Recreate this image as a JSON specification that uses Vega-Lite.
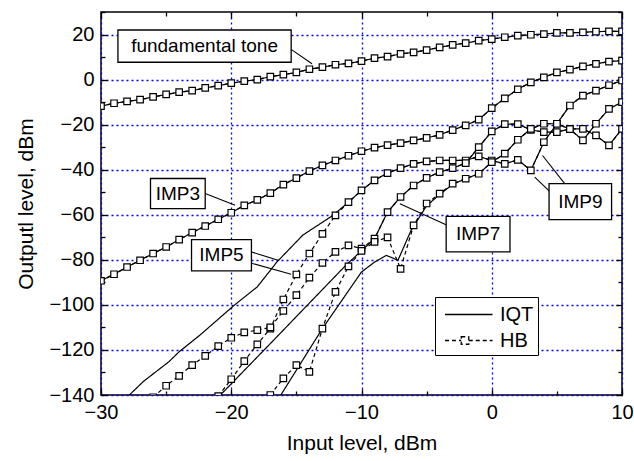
{
  "$schema": "https://vega.github.io/schema/vega-lite/v6.json",
  "width": 521,
  "height": 383,
  "autosize": {"type": "none"},
  "padding": {"left": 101, "top": 12, "right": 12, "bottom": 66},
  "background": "white",
  "config": {
    "view": {"stroke": "black", "strokeWidth": 1.5},
    "font": "Liberation Sans",
    "axis": {"labelFont": "Liberation Sans", "titleFont": "Liberation Sans", "labelFontSize": 20, "titleFontSize": 21, "labelColor": "black", "titleColor": "black", "titleFontWeight": "normal", "domain": false}
  },
  "datasets": {
    "curves": [
      {"s": "fund", "m": "IQT", "x": -30, "y": -11.8}, {"s": "fund", "m": "IQT", "x": -29, "y": -10.5}, {"s": "fund", "m": "IQT", "x": -28, "y": -9.7}, {"s": "fund", "m": "IQT", "x": -27, "y": -8.9}, {"s": "fund", "m": "IQT", "x": -26, "y": -7.7}, {"s": "fund", "m": "IQT", "x": -25, "y": -6.6}, {"s": "fund", "m": "IQT", "x": -24, "y": -5.6}, {"s": "fund", "m": "IQT", "x": -23, "y": -4.9}, {"s": "fund", "m": "IQT", "x": -22, "y": -3.7}, {"s": "fund", "m": "IQT", "x": -21, "y": -2.7}, {"s": "fund", "m": "IQT", "x": -20, "y": -1.6}, {"s": "fund", "m": "IQT", "x": -19, "y": -0.7}, {"s": "fund", "m": "IQT", "x": -18, "y": 0}, {"s": "fund", "m": "IQT", "x": -17, "y": 1.3}, {"s": "fund", "m": "IQT", "x": -16, "y": 2.2}, {"s": "fund", "m": "IQT", "x": -15, "y": 3.2}, {"s": "fund", "m": "IQT", "x": -14, "y": 4.6}, {"s": "fund", "m": "IQT", "x": -13, "y": 5.5}, {"s": "fund", "m": "IQT", "x": -12, "y": 6.6}, {"s": "fund", "m": "IQT", "x": -11, "y": 7.2}, {"s": "fund", "m": "IQT", "x": -10, "y": 8.2}, {"s": "fund", "m": "IQT", "x": -9, "y": 9.5}, {"s": "fund", "m": "IQT", "x": -8, "y": 10.2}, {"s": "fund", "m": "IQT", "x": -7, "y": 11.4}, {"s": "fund", "m": "IQT", "x": -6, "y": 12.1}, {"s": "fund", "m": "IQT", "x": -5, "y": 13.1}, {"s": "fund", "m": "IQT", "x": -4, "y": 14.3}, {"s": "fund", "m": "IQT", "x": -3, "y": 15.4}, {"s": "fund", "m": "IQT", "x": -2, "y": 16.2}, {"s": "fund", "m": "IQT", "x": -1, "y": 17.3}, {"s": "fund", "m": "IQT", "x": 0, "y": 18.0}, {"s": "fund", "m": "IQT", "x": 1, "y": 18.8}, {"s": "fund", "m": "IQT", "x": 2, "y": 19.5}, {"s": "fund", "m": "IQT", "x": 3, "y": 19.9}, {"s": "fund", "m": "IQT", "x": 4, "y": 20.2}, {"s": "fund", "m": "IQT", "x": 5, "y": 20.7}, {"s": "fund", "m": "IQT", "x": 6, "y": 20.7}, {"s": "fund", "m": "IQT", "x": 7, "y": 21.0}, {"s": "fund", "m": "IQT", "x": 8, "y": 21.3}, {"s": "fund", "m": "IQT", "x": 9, "y": 21.4}, {"s": "fund", "m": "IQT", "x": 10, "y": 21.4},
      {"s": "imp3", "m": "IQT", "x": -30, "y": -89.3}, {"s": "imp3", "m": "IQT", "x": -29, "y": -86.4}, {"s": "imp3", "m": "IQT", "x": -28, "y": -83.2}, {"s": "imp3", "m": "IQT", "x": -27, "y": -80.2}, {"s": "imp3", "m": "IQT", "x": -26, "y": -77.2}, {"s": "imp3", "m": "IQT", "x": -25, "y": -74.3}, {"s": "imp3", "m": "IQT", "x": -24, "y": -71.0}, {"s": "imp3", "m": "IQT", "x": -23, "y": -67.9}, {"s": "imp3", "m": "IQT", "x": -22, "y": -65.0}, {"s": "imp3", "m": "IQT", "x": -21, "y": -62.0}, {"s": "imp3", "m": "IQT", "x": -20, "y": -59.1}, {"s": "imp3", "m": "IQT", "x": -19, "y": -55.8}, {"s": "imp3", "m": "IQT", "x": -18, "y": -53.4}, {"s": "imp3", "m": "IQT", "x": -17, "y": -50.4}, {"s": "imp3", "m": "IQT", "x": -16, "y": -46.6}, {"s": "imp3", "m": "IQT", "x": -15, "y": -43.7}, {"s": "imp3", "m": "IQT", "x": -14, "y": -40.6}, {"s": "imp3", "m": "IQT", "x": -13, "y": -38.1}, {"s": "imp3", "m": "IQT", "x": -12, "y": -35.9}, {"s": "imp3", "m": "IQT", "x": -11, "y": -33.8}, {"s": "imp3", "m": "IQT", "x": -10, "y": -31.8}, {"s": "imp3", "m": "IQT", "x": -9, "y": -30.2}, {"s": "imp3", "m": "IQT", "x": -8, "y": -29.1}, {"s": "imp3", "m": "IQT", "x": -7, "y": -28.2}, {"s": "imp3", "m": "IQT", "x": -6, "y": -27.0}, {"s": "imp3", "m": "IQT", "x": -5, "y": -25.9}, {"s": "imp3", "m": "IQT", "x": -4, "y": -24.5}, {"s": "imp3", "m": "IQT", "x": -3, "y": -22.4}, {"s": "imp3", "m": "IQT", "x": -2, "y": -20.3}, {"s": "imp3", "m": "IQT", "x": -1, "y": -17.8}, {"s": "imp3", "m": "IQT", "x": 0, "y": -12.7}, {"s": "imp3", "m": "IQT", "x": 1, "y": -8.3}, {"s": "imp3", "m": "IQT", "x": 2, "y": -4.3}, {"s": "imp3", "m": "IQT", "x": 3, "y": -1.2}, {"s": "imp3", "m": "IQT", "x": 4, "y": 1.0}, {"s": "imp3", "m": "IQT", "x": 5, "y": 3.2}, {"s": "imp3", "m": "IQT", "x": 6, "y": 4.4}, {"s": "imp3", "m": "IQT", "x": 7, "y": 5.9}, {"s": "imp3", "m": "IQT", "x": 8, "y": 7.0}, {"s": "imp3", "m": "IQT", "x": 9, "y": 8.0}, {"s": "imp3", "m": "IQT", "x": 10, "y": 8.4},
      {"s": "imp5", "m": "IQT", "x": -28, "y": -141}, {"s": "imp5", "m": "IQT", "x": -26.75, "y": -134}, {"s": "imp5", "m": "IQT", "x": -24.8, "y": -125.3}, {"s": "imp5", "m": "IQT", "x": -24, "y": -120.8}, {"s": "imp5", "m": "IQT", "x": -22.4, "y": -113.4}, {"s": "imp5", "m": "IQT", "x": -19.8, "y": -100.3}, {"s": "imp5", "m": "IQT", "x": -18, "y": -92}, {"s": "imp5", "m": "IQT", "x": -16.5, "y": -81}, {"s": "imp5", "m": "IQT", "x": -14.5, "y": -69}, {"s": "imp5", "m": "IQT", "x": -12.2, "y": -60.3}, {"s": "imp5", "m": "IQT", "x": -11, "y": -54.4}, {"s": "imp5", "m": "IQT", "x": -10, "y": -49.2}, {"s": "imp5", "m": "IQT", "x": -9, "y": -44.7}, {"s": "imp5", "m": "IQT", "x": -8, "y": -41.5}, {"s": "imp5", "m": "IQT", "x": -7, "y": -39.3}, {"s": "imp5", "m": "IQT", "x": -6, "y": -37.4}, {"s": "imp5", "m": "IQT", "x": -5, "y": -36.3}, {"s": "imp5", "m": "IQT", "x": -4, "y": -35.9}, {"s": "imp5", "m": "IQT", "x": -3, "y": -35.9}, {"s": "imp5", "m": "IQT", "x": -2, "y": -35.9}, {"s": "imp5", "m": "IQT", "x": -1, "y": -34.1}, {"s": "imp5", "m": "IQT", "x": 0, "y": -35.9}, {"s": "imp5", "m": "IQT", "x": 1, "y": -37.4}, {"s": "imp5", "m": "IQT", "x": 2, "y": -35.6}, {"s": "imp5", "m": "IQT", "x": 3, "y": -40.3}, {"s": "imp5", "m": "IQT", "x": 4, "y": -27.8}, {"s": "imp5", "m": "IQT", "x": 5, "y": -19.6}, {"s": "imp5", "m": "IQT", "x": 6, "y": -11.5}, {"s": "imp5", "m": "IQT", "x": 7, "y": -7.1}, {"s": "imp5", "m": "IQT", "x": 8, "y": -4.9}, {"s": "imp5", "m": "IQT", "x": 9, "y": -2.5}, {"s": "imp5", "m": "IQT", "x": 10, "y": -0.4},
      {"s": "imp7", "m": "IQT", "x": -21, "y": -141}, {"s": "imp7", "m": "IQT", "x": -16.5, "y": -114.2}, {"s": "imp7", "m": "IQT", "x": -11.2, "y": -82.4}, {"s": "imp7", "m": "IQT", "x": -9, "y": -70.6}, {"s": "imp7", "m": "IQT", "x": -8, "y": -58.8}, {"s": "imp7", "m": "IQT", "x": -7, "y": -52.1}, {"s": "imp7", "m": "IQT", "x": -6, "y": -47}, {"s": "imp7", "m": "IQT", "x": -5, "y": -43.6}, {"s": "imp7", "m": "IQT", "x": -4, "y": -41.1}, {"s": "imp7", "m": "IQT", "x": -3, "y": -39.3}, {"s": "imp7", "m": "IQT", "x": -2, "y": -37.1}, {"s": "imp7", "m": "IQT", "x": -1, "y": -30}, {"s": "imp7", "m": "IQT", "x": 0, "y": -23}, {"s": "imp7", "m": "IQT", "x": 1, "y": -19.8}, {"s": "imp7", "m": "IQT", "x": 2, "y": -19.8}, {"s": "imp7", "m": "IQT", "x": 3, "y": -22.3}, {"s": "imp7", "m": "IQT", "x": 4, "y": -23.3}, {"s": "imp7", "m": "IQT", "x": 5, "y": -23.3}, {"s": "imp7", "m": "IQT", "x": 6, "y": -21.9}, {"s": "imp7", "m": "IQT", "x": 7, "y": -21.9}, {"s": "imp7", "m": "IQT", "x": 8, "y": -24.8}, {"s": "imp7", "m": "IQT", "x": 9, "y": -29.2}, {"s": "imp7", "m": "IQT", "x": 10, "y": -21.9},
      {"s": "imp9", "m": "IQT", "x": -16.3, "y": -141}, {"s": "imp9", "m": "IQT", "x": -13, "y": -110.5}, {"s": "imp9", "m": "IQT", "x": -10, "y": -85.4}, {"s": "imp9", "m": "IQT", "x": -9, "y": -81}, {"s": "imp9", "m": "IQT", "x": -8.1, "y": -78}, {"s": "imp9", "m": "IQT", "x": -7.2, "y": -80.2}, {"s": "imp9", "m": "IQT", "x": -6.2, "y": -67}, {"s": "imp9", "m": "IQT", "x": -5, "y": -56}, {"s": "imp9", "m": "IQT", "x": -4, "y": -51}, {"s": "imp9", "m": "IQT", "x": -3, "y": -46.5}, {"s": "imp9", "m": "IQT", "x": -2, "y": -44}, {"s": "imp9", "m": "IQT", "x": -1, "y": -41.8}, {"s": "imp9", "m": "IQT", "x": 0, "y": -36.6}, {"s": "imp9", "m": "IQT", "x": 1, "y": -32.9}, {"s": "imp9", "m": "IQT", "x": 2, "y": -26.7}, {"s": "imp9", "m": "IQT", "x": 3, "y": -21.9}, {"s": "imp9", "m": "IQT", "x": 4, "y": -19.6}, {"s": "imp9", "m": "IQT", "x": 5, "y": -19.6}, {"s": "imp9", "m": "IQT", "x": 6, "y": -22}, {"s": "imp9", "m": "IQT", "x": 7, "y": -27}, {"s": "imp9", "m": "IQT", "x": 8, "y": -19.6}, {"s": "imp9", "m": "IQT", "x": 9, "y": -13}, {"s": "imp9", "m": "IQT", "x": 10, "y": -10},
      {"s": "fund", "m": "HB", "x": -30, "y": -11.8}, {"s": "fund", "m": "HB", "x": -29, "y": -10.5}, {"s": "fund", "m": "HB", "x": -28, "y": -9.7}, {"s": "fund", "m": "HB", "x": -27, "y": -8.9}, {"s": "fund", "m": "HB", "x": -26, "y": -7.7}, {"s": "fund", "m": "HB", "x": -25, "y": -6.6}, {"s": "fund", "m": "HB", "x": -24, "y": -5.6}, {"s": "fund", "m": "HB", "x": -23, "y": -4.9}, {"s": "fund", "m": "HB", "x": -22, "y": -3.7}, {"s": "fund", "m": "HB", "x": -21, "y": -2.7}, {"s": "fund", "m": "HB", "x": -20, "y": -1.6}, {"s": "fund", "m": "HB", "x": -19, "y": -0.7}, {"s": "fund", "m": "HB", "x": -18, "y": 0}, {"s": "fund", "m": "HB", "x": -17, "y": 1.3}, {"s": "fund", "m": "HB", "x": -16, "y": 2.2}, {"s": "fund", "m": "HB", "x": -15, "y": 3.2}, {"s": "fund", "m": "HB", "x": -14, "y": 4.6}, {"s": "fund", "m": "HB", "x": -13, "y": 5.5}, {"s": "fund", "m": "HB", "x": -12, "y": 6.6}, {"s": "fund", "m": "HB", "x": -11, "y": 7.2}, {"s": "fund", "m": "HB", "x": -10, "y": 8.2}, {"s": "fund", "m": "HB", "x": -9, "y": 9.5}, {"s": "fund", "m": "HB", "x": -8, "y": 10.2}, {"s": "fund", "m": "HB", "x": -7, "y": 11.4}, {"s": "fund", "m": "HB", "x": -6, "y": 12.1}, {"s": "fund", "m": "HB", "x": -5, "y": 13.1}, {"s": "fund", "m": "HB", "x": -4, "y": 14.3}, {"s": "fund", "m": "HB", "x": -3, "y": 15.4}, {"s": "fund", "m": "HB", "x": -2, "y": 16.2}, {"s": "fund", "m": "HB", "x": -1, "y": 17.3}, {"s": "fund", "m": "HB", "x": 0, "y": 18.0}, {"s": "fund", "m": "HB", "x": 1, "y": 18.8}, {"s": "fund", "m": "HB", "x": 2, "y": 19.5}, {"s": "fund", "m": "HB", "x": 3, "y": 19.9}, {"s": "fund", "m": "HB", "x": 4, "y": 20.2}, {"s": "fund", "m": "HB", "x": 5, "y": 20.7}, {"s": "fund", "m": "HB", "x": 6, "y": 20.7}, {"s": "fund", "m": "HB", "x": 7, "y": 21.0}, {"s": "fund", "m": "HB", "x": 8, "y": 21.3}, {"s": "fund", "m": "HB", "x": 9, "y": 21.4}, {"s": "fund", "m": "HB", "x": 10, "y": 21.4},
      {"s": "imp3", "m": "HB", "x": -30, "y": -89.3}, {"s": "imp3", "m": "HB", "x": -29, "y": -86.4}, {"s": "imp3", "m": "HB", "x": -28, "y": -83.2}, {"s": "imp3", "m": "HB", "x": -27, "y": -80.2}, {"s": "imp3", "m": "HB", "x": -26, "y": -77.2}, {"s": "imp3", "m": "HB", "x": -25, "y": -74.3}, {"s": "imp3", "m": "HB", "x": -24, "y": -71.0}, {"s": "imp3", "m": "HB", "x": -23, "y": -67.9}, {"s": "imp3", "m": "HB", "x": -22, "y": -65.0}, {"s": "imp3", "m": "HB", "x": -21, "y": -62.0}, {"s": "imp3", "m": "HB", "x": -20, "y": -59.1}, {"s": "imp3", "m": "HB", "x": -19, "y": -55.8}, {"s": "imp3", "m": "HB", "x": -18, "y": -53.4}, {"s": "imp3", "m": "HB", "x": -17, "y": -50.4}, {"s": "imp3", "m": "HB", "x": -16, "y": -46.6}, {"s": "imp3", "m": "HB", "x": -15, "y": -43.7}, {"s": "imp3", "m": "HB", "x": -14, "y": -40.6}, {"s": "imp3", "m": "HB", "x": -13, "y": -38.1}, {"s": "imp3", "m": "HB", "x": -12, "y": -35.9}, {"s": "imp3", "m": "HB", "x": -11, "y": -33.8}, {"s": "imp3", "m": "HB", "x": -10, "y": -31.8}, {"s": "imp3", "m": "HB", "x": -9, "y": -30.2}, {"s": "imp3", "m": "HB", "x": -8, "y": -29.1}, {"s": "imp3", "m": "HB", "x": -7, "y": -28.2}, {"s": "imp3", "m": "HB", "x": -6, "y": -27.0}, {"s": "imp3", "m": "HB", "x": -5, "y": -25.9}, {"s": "imp3", "m": "HB", "x": -4, "y": -24.5}, {"s": "imp3", "m": "HB", "x": -3, "y": -22.4}, {"s": "imp3", "m": "HB", "x": -2, "y": -20.3}, {"s": "imp3", "m": "HB", "x": -1, "y": -17.8}, {"s": "imp3", "m": "HB", "x": 0, "y": -12.7}, {"s": "imp3", "m": "HB", "x": 1, "y": -8.3}, {"s": "imp3", "m": "HB", "x": 2, "y": -4.3}, {"s": "imp3", "m": "HB", "x": 3, "y": -1.2}, {"s": "imp3", "m": "HB", "x": 4, "y": 1.0}, {"s": "imp3", "m": "HB", "x": 5, "y": 3.2}, {"s": "imp3", "m": "HB", "x": 6, "y": 4.4}, {"s": "imp3", "m": "HB", "x": 7, "y": 5.9}, {"s": "imp3", "m": "HB", "x": 8, "y": 7.0}, {"s": "imp3", "m": "HB", "x": 9, "y": 8.0}, {"s": "imp3", "m": "HB", "x": 10, "y": 8.4},
      {"s": "imp5", "m": "HB", "x": -21, "y": -140.5}, {"s": "imp5", "m": "HB", "x": -20, "y": -133}, {"s": "imp5", "m": "HB", "x": -19, "y": -125}, {"s": "imp5", "m": "HB", "x": -18, "y": -117.5}, {"s": "imp5", "m": "HB", "x": -17, "y": -110.5}, {"s": "imp5", "m": "HB", "x": -16, "y": -97.6}, {"s": "imp5", "m": "HB", "x": -15, "y": -86.5}, {"s": "imp5", "m": "HB", "x": -14, "y": -77.2}, {"s": "imp5", "m": "HB", "x": -13, "y": -68.5}, {"s": "imp5", "m": "HB", "x": -12, "y": -60.3}, {"s": "imp5", "m": "HB", "x": -11, "y": -54.4}, {"s": "imp5", "m": "HB", "x": -10, "y": -49.2}, {"s": "imp5", "m": "HB", "x": -9, "y": -44.7}, {"s": "imp5", "m": "HB", "x": -8, "y": -41.5}, {"s": "imp5", "m": "HB", "x": -7, "y": -39.3}, {"s": "imp5", "m": "HB", "x": -6, "y": -37.4}, {"s": "imp5", "m": "HB", "x": -5, "y": -36.3}, {"s": "imp5", "m": "HB", "x": -4, "y": -35.9}, {"s": "imp5", "m": "HB", "x": -3, "y": -35.9}, {"s": "imp5", "m": "HB", "x": -2, "y": -35.9}, {"s": "imp5", "m": "HB", "x": -1, "y": -34.1}, {"s": "imp5", "m": "HB", "x": 0, "y": -35.9}, {"s": "imp5", "m": "HB", "x": 1, "y": -37.4}, {"s": "imp5", "m": "HB", "x": 2, "y": -35.6}, {"s": "imp5", "m": "HB", "x": 3, "y": -40.3}, {"s": "imp5", "m": "HB", "x": 4, "y": -27.8}, {"s": "imp5", "m": "HB", "x": 5, "y": -19.6}, {"s": "imp5", "m": "HB", "x": 6, "y": -11.5}, {"s": "imp5", "m": "HB", "x": 7, "y": -7.1}, {"s": "imp5", "m": "HB", "x": 8, "y": -4.9}, {"s": "imp5", "m": "HB", "x": 9, "y": -2.5}, {"s": "imp5", "m": "HB", "x": 10, "y": -0.4},
      {"s": "imp7", "m": "HB", "x": -26, "y": -141}, {"s": "imp7", "m": "HB", "x": -25, "y": -135.9}, {"s": "imp7", "m": "HB", "x": -24, "y": -131.5}, {"s": "imp7", "m": "HB", "x": -23, "y": -126.7}, {"s": "imp7", "m": "HB", "x": -22, "y": -122.6}, {"s": "imp7", "m": "HB", "x": -21, "y": -118.3}, {"s": "imp7", "m": "HB", "x": -20, "y": -114.6}, {"s": "imp7", "m": "HB", "x": -19, "y": -112.2}, {"s": "imp7", "m": "HB", "x": -18, "y": -111.2}, {"s": "imp7", "m": "HB", "x": -17, "y": -110}, {"s": "imp7", "m": "HB", "x": -16, "y": -102.7}, {"s": "imp7", "m": "HB", "x": -15, "y": -95.7}, {"s": "imp7", "m": "HB", "x": -14, "y": -87.9}, {"s": "imp7", "m": "HB", "x": -13, "y": -81.4}, {"s": "imp7", "m": "HB", "x": -12, "y": -76.5}, {"s": "imp7", "m": "HB", "x": -11, "y": -73.6}, {"s": "imp7", "m": "HB", "x": -10, "y": -75}, {"s": "imp7", "m": "HB", "x": -9, "y": -70.6}, {"s": "imp7", "m": "HB", "x": -8, "y": -58.8}, {"s": "imp7", "m": "HB", "x": -7, "y": -52.1}, {"s": "imp7", "m": "HB", "x": -6, "y": -47}, {"s": "imp7", "m": "HB", "x": -5, "y": -43.6}, {"s": "imp7", "m": "HB", "x": -4, "y": -41.1}, {"s": "imp7", "m": "HB", "x": -3, "y": -39.3}, {"s": "imp7", "m": "HB", "x": -2, "y": -37.1}, {"s": "imp7", "m": "HB", "x": -1, "y": -30}, {"s": "imp7", "m": "HB", "x": 0, "y": -23}, {"s": "imp7", "m": "HB", "x": 1, "y": -19.8}, {"s": "imp7", "m": "HB", "x": 2, "y": -19.8}, {"s": "imp7", "m": "HB", "x": 3, "y": -22.3}, {"s": "imp7", "m": "HB", "x": 4, "y": -23.3}, {"s": "imp7", "m": "HB", "x": 5, "y": -23.3}, {"s": "imp7", "m": "HB", "x": 6, "y": -21.9}, {"s": "imp7", "m": "HB", "x": 7, "y": -21.9}, {"s": "imp7", "m": "HB", "x": 8, "y": -24.8}, {"s": "imp7", "m": "HB", "x": 9, "y": -29.2}, {"s": "imp7", "m": "HB", "x": 10, "y": -21.9},
      {"s": "imp9", "m": "HB", "x": -17, "y": -140}, {"s": "imp9", "m": "HB", "x": -16, "y": -132.6}, {"s": "imp9", "m": "HB", "x": -15, "y": -126.7}, {"s": "imp9", "m": "HB", "x": -14, "y": -129.7}, {"s": "imp9", "m": "HB", "x": -13, "y": -110.5}, {"s": "imp9", "m": "HB", "x": -12, "y": -94.2}, {"s": "imp9", "m": "HB", "x": -11, "y": -82.9}, {"s": "imp9", "m": "HB", "x": -10, "y": -76}, {"s": "imp9", "m": "HB", "x": -9, "y": -72}, {"s": "imp9", "m": "HB", "x": -8, "y": -70}, {"s": "imp9", "m": "HB", "x": -7, "y": -84}, {"s": "imp9", "m": "HB", "x": -6, "y": -64.7}, {"s": "imp9", "m": "HB", "x": -5, "y": -55}, {"s": "imp9", "m": "HB", "x": -4, "y": -50.6}, {"s": "imp9", "m": "HB", "x": -3, "y": -46.2}, {"s": "imp9", "m": "HB", "x": -2, "y": -44}, {"s": "imp9", "m": "HB", "x": -1, "y": -41.8}, {"s": "imp9", "m": "HB", "x": 0, "y": -36.6}, {"s": "imp9", "m": "HB", "x": 1, "y": -32.9}, {"s": "imp9", "m": "HB", "x": 2, "y": -26.7}, {"s": "imp9", "m": "HB", "x": 3, "y": -21.9}, {"s": "imp9", "m": "HB", "x": 4, "y": -19.6}, {"s": "imp9", "m": "HB", "x": 5, "y": -19.6}, {"s": "imp9", "m": "HB", "x": 6, "y": -22}, {"s": "imp9", "m": "HB", "x": 7, "y": -27}, {"s": "imp9", "m": "HB", "x": 8, "y": -19.6}, {"s": "imp9", "m": "HB", "x": 9, "y": -13}, {"s": "imp9", "m": "HB", "x": 10, "y": -10}
    ],
    "boxes": [
      {"label": "fundamental tone", "x1": -28.7, "x2": -15.4, "y1": 22.0, "y2": 7.7, "tx": -22.05, "ty": 14.85},
      {"label": "IMP3", "x1": -26.2, "x2": -22.0, "y1": -43.9, "y2": -57.3, "tx": -24.1, "ty": -50.6},
      {"label": "IMP5", "x1": -23.05, "x2": -18.45, "y1": -71.0, "y2": -84.9, "tx": -20.75, "ty": -78.0},
      {"label": "IMP7", "x1": -3.5, "x2": 1.4, "y1": -60.7, "y2": -76.5, "tx": -1.05, "ty": -68.6},
      {"label": "IMP9", "x1": 4.4, "x2": 9.2, "y1": -46.2, "y2": -62.2, "tx": 6.8, "ty": -54.2}
    ],
    "arrows": [
      {"ax": -15.4, "ay": 13.4, "bx": -13.8, "by": 7.0},
      {"ax": -22.0, "ay": -50.6, "bx": -19.7, "by": -55.8},
      {"ax": -18.45, "ay": -76.5, "bx": -16.4, "by": -80.2},
      {"ax": -18.45, "ay": -81.5, "bx": -15.4, "by": -86.4},
      {"ax": -3.3, "ay": -65.0, "bx": -7.05, "by": -55.1},
      {"ax": 4.6, "ay": -50.5, "bx": 3.3, "by": -43.3},
      {"ax": 5.6, "ay": -46.2, "bx": 3.9, "by": -33.7}
    ]
  },
  "resolve": {"axis": {"x": "independent", "y": "independent"}},
  "layer": [
    {
      "data": {"name": "curves"},
      "mark": {"type": "line", "color": "black", "strokeWidth": 1.2, "clip": true},
      "encoding": {
        "x": {"field": "x", "type": "quantitative", "scale": {"domain": [-30, 10], "nice": false, "zero": false},
              "axis": {"orient": "bottom", "values": [-30, -20, -10, 0, 10], "ticks": false, "labelPadding": 7, "title": "Input level, dBm", "titlePadding": 10, "grid": true, "gridColor": "#0000ff", "gridDash": [2, 3], "gridWidth": 1.3, "labelFlush": false}},
        "y": {"field": "y", "type": "quantitative", "scale": {"domain": [-140, 30], "nice": false, "zero": false},
              "axis": {"orient": "left", "values": [-140, -120, -100, -80, -60, -40, -20, 0, 20], "ticks": false, "labelPadding": 7, "title": "Outputl level, dBm", "titlePadding": 12, "grid": true, "gridColor": "#0000ff", "gridDash": [2, 3], "gridWidth": 1.3}},
        "detail": {"field": "s"},
        "strokeDash": {"field": "m", "type": "nominal", "scale": {"domain": ["IQT", "HB"], "range": [[1, 0], [4, 3]]},
          "legend": {"title": null, "orient": "none", "legendX": 334, "legendY": 285, "fillColor": "white", "strokeColor": "black", "padding": 4, "labelFont": "Liberation Sans", "labelFontSize": 20, "labelColor": "black", "symbolType": "stroke", "symbolSize": 625, "symbolStrokeColor": "black", "symbolStrokeWidth": 1.3, "rowPadding": 2, "labelOffset": 34,
            "encode": {"symbols": {"update": {"shape": {"signal": "datum.value === 'HB' ? 'M-0.6,0L0.7,0M0.7,-0.3L1.3,-0.3L1.3,0.3L0.7,0.3ZM1.3,0L3.2,0' : 'M-0.6,0L3.2,0'"}, "stroke": {"value": "black"}, "strokeWidth": {"value": 1.3}, "fill": {"value": "white"}, "fillOpacity": {"value": 1}, "strokeOpacity": {"value": 1}, "opacity": {"value": 1}}}}}}
      }
    },
    {
      "data": {"name": "curves"},
      "transform": [{"filter": "datum.m === 'HB'"}],
      "mark": {"type": "point", "shape": "square", "size": 42, "filled": true, "fill": "white", "stroke": "black", "strokeWidth": 1.2, "opacity": 1, "clip": true},
      "encoding": {
        "x": {"field": "x", "type": "quantitative", "scale": {"domain": [-30, 10], "nice": false, "zero": false},
              "axis": {"orient": "bottom", "values": [-30, -25, -20, -15, -10, -5, 0, 5, 10], "labels": false, "title": null, "grid": false, "tickColor": "black", "tickWidth": 1.3, "tickSize": {"condition": {"test": "datum.value % 10 === 0", "value": -6}, "value": -4}}},
        "y": {"field": "y", "type": "quantitative", "scale": {"domain": [-140, 30], "nice": false, "zero": false},
              "axis": {"orient": "left", "values": [-140, -130, -120, -110, -100, -90, -80, -70, -60, -50, -40, -30, -20, -10, 0, 10, 20, 30], "labels": false, "title": null, "grid": false, "tickColor": "black", "tickWidth": 1.3, "tickSize": {"condition": {"test": "datum.value % 20 === 0", "value": -6}, "value": -4}}}
      }
    },
    {
      "data": {"name": "arrows"},
      "mark": {"type": "rule", "color": "black", "strokeWidth": 1.1},
      "encoding": {
        "x": {"field": "ax", "type": "quantitative", "scale": {"domain": [-30, 10], "nice": false, "zero": false},
              "axis": {"orient": "top", "values": [-30, -25, -20, -15, -10, -5, 0, 5, 10], "labels": false, "title": null, "grid": false, "tickColor": "black", "tickWidth": 1.3, "tickSize": {"condition": {"test": "datum.value % 10 === 0", "value": -6}, "value": -4}}},
        "y": {"field": "ay", "type": "quantitative", "scale": {"domain": [-140, 30], "nice": false, "zero": false},
              "axis": {"orient": "right", "values": [-140, -130, -120, -110, -100, -90, -80, -70, -60, -50, -40, -30, -20, -10, 0, 10, 20, 30], "labels": false, "title": null, "grid": false, "tickColor": "black", "tickWidth": 1.3, "tickSize": {"condition": {"test": "datum.value % 20 === 0", "value": -6}, "value": -4}}},
        "x2": {"field": "bx"},
        "y2": {"field": "by"}
      }
    },
    {
      "data": {"name": "boxes"},
      "mark": {"type": "rect", "fill": "white", "stroke": "black", "strokeWidth": 1.3},
      "encoding": {
        "x": {"field": "x1", "type": "quantitative", "axis": null},
        "x2": {"field": "x2"},
        "y": {"field": "y1", "type": "quantitative", "axis": null},
        "y2": {"field": "y2"}
      }
    },
    {
      "data": {"name": "boxes"},
      "mark": {"type": "text", "font": "Liberation Sans", "fontSize": 19, "color": "black", "align": "center", "baseline": "middle"},
      "encoding": {
        "x": {"field": "tx", "type": "quantitative", "axis": null},
        "y": {"field": "ty", "type": "quantitative", "axis": null},
        "text": {"field": "label"}
      }
    }
  ]
}
